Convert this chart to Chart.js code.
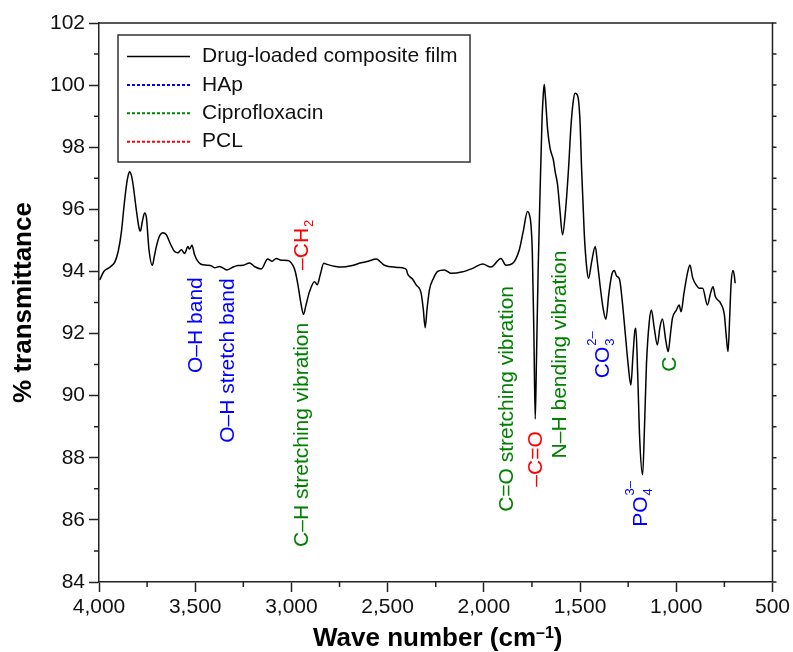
<!DOCTYPE html>
<html>
<head>
<meta charset="utf-8">
<script src="https://cdn.jsdelivr.net/npm/chart.js@4.4.1/dist/chart.umd.min.js"></script>
<style>
  html, body { margin: 0; padding: 0; background: #fff; }
  #wrap { width: 793px; height: 652px; position: relative; }
</style>
</head>
<body>
<div id="wrap"><canvas id="ftir"></canvas></div>
<script>
// ─── DATA ────────────────────────────────────────────────────────────────
const waveNumbers = [
  3996, 3975, 3953, 3935, 3918, 3900, 3884, 3870, 3858, 3848, 3841, 3832, 3823, 3806, 3792, 3785,
  3775, 3763, 3754, 3740, 3723, 3712, 3702, 3685, 3668, 3650, 3630, 3607, 3590, 3572, 3555, 3538,
  3530, 3517, 3503, 3472, 3440, 3416, 3399, 3373, 3335, 3300, 3278, 3250, 3218, 3190, 3157, 3123,
  3100, 3079, 3053, 3019, 2993, 2980, 2967, 2950, 2937, 2925, 2906, 2880, 2866, 2850, 2832, 2811,
  2770, 2741, 2690, 2638, 2600, 2560, 2517, 2450, 2413, 2402, 2396, 2370, 2352, 2326, 2315, 2305,
  2295, 2283, 2260, 2240, 2205, 2170, 2110, 2058, 2006, 1963, 1911, 1885, 1850, 1816, 1795, 1773,
  1762, 1755, 1748, 1740, 1733, 1727, 1718, 1708, 1698, 1690, 1686, 1680, 1669, 1656, 1639, 1629,
  1617, 1605, 1591, 1575, 1560, 1547, 1535, 1526, 1512, 1500, 1492, 1478, 1465, 1456, 1440, 1421,
  1410, 1395, 1380, 1366, 1350, 1335, 1322, 1310, 1295, 1280, 1265, 1250, 1236, 1225, 1215, 1210,
  1200, 1190, 1175, 1165, 1155, 1140, 1129, 1115, 1098, 1085, 1072, 1055, 1042, 1030, 1020, 1000,
  985, 975, 960, 940, 929, 915, 897, 880, 863, 838, 822, 809, 797, 770, 750, 740,
  731, 722, 715, 705, 698, 694
];
const transmittance = [
  93.73, 94.0, 94.10, 94.18, 94.3, 94.65, 95.25, 96.1, 96.75, 97.1, 97.21, 97.1, 96.8, 95.98, 95.4, 95.3,
  95.6, 95.88, 95.75, 94.69, 94.2, 94.5, 94.8, 95.15, 95.25, 95.18, 94.9, 94.64, 94.6, 94.7, 94.58, 94.8,
  94.72, 94.84, 94.53, 94.24, 94.2, 94.18, 94.12, 94.16, 94.05, 94.15, 94.19, 94.2, 94.27, 94.15, 94.08, 94.4,
  94.33, 94.42, 94.36, 94.35, 94.2, 94.0, 93.6, 92.95, 92.62, 92.9, 93.35, 93.67, 93.57, 93.9, 94.26, 94.22,
  94.16, 94.14, 94.18, 94.28, 94.33, 94.4, 94.2, 94.13, 94.1, 94.05, 93.92, 93.75, 93.57, 93.3, 92.8, 92.19,
  92.8, 93.4, 93.8, 94.0, 94.05, 93.94, 93.99, 94.1, 94.24, 94.14, 94.42, 94.2, 94.26, 94.69, 95.3, 95.93,
  95.8, 95.5, 94.6, 92.0, 89.25, 91.0, 94.0, 96.5, 98.8, 99.8, 100.02, 99.6, 98.6, 97.97, 97.6, 97.2,
  96.8, 96.0, 95.18, 96.0, 97.3, 98.7, 99.5, 99.74, 99.65, 98.8, 97.3, 95.2, 94.1, 93.78, 94.3, 94.8,
  94.3, 93.5, 92.8, 92.46, 93.3, 93.9, 94.03, 93.85, 93.75, 93.0, 92.0, 91.0, 90.34, 91.3, 92.1, 92.17,
  90.6, 88.6, 87.45, 89.0, 91.0, 92.4, 92.76, 92.2, 91.63, 92.2, 92.47, 91.8, 91.42, 92.0, 92.49, 92.75,
  92.92, 92.7, 93.3, 94.0, 94.21, 93.8, 93.57, 93.46, 93.46, 92.92, 93.3, 93.51, 93.19, 92.98, 92.6, 91.9,
  91.42, 92.6, 93.62, 94.03, 93.85, 93.62
];

const xTicks = [4000, 3500, 3000, 2500, 2000, 1500, 1000, 500];
const yTicks = [84, 86, 88, 90, 92, 94, 96, 98, 100, 102];

const seriesNames = ['Drug-loaded composite film', 'HAp', 'Ciprofloxacin', 'PCL'];

// band labels: text, subscript, superscript, anchor wave number, anchor level, series index
const bandText   = ['O–H band', 'O–H stretch band', 'C–H stretching vibration', '–CH', 'C=O stretching vibration',
                    '–C=O', 'N–H bending vibration', 'CO', 'PO', 'C'];
const bandSub    = ['', '', '', '2', '', '', '', '3', '4', ''];
const bandSup    = ['', '', '', '', '', '', '', '2–', '3–', ''];
const bandWave   = [3465, 3299, 2916, 2915, 1850, 1698, 1573, 1348, 1150, 1002];
const bandLevel  = [90.73, 88.48, 85.13, 94.05, 86.26, 87.07, 87.98, 90.56, 85.78, 90.77];
const bandSeries = [1, 1, 2, 3, 2, 3, 2, 1, 1, 2];

// ─── ESTILO ──────────────────────────────────────────────────────────────
const FONT = "'Liberation Sans', Arial, Helvetica, sans-serif";
const AXIS = '#222';

// minor ticks = midpoints of the major ones
const mids = arr => arr.slice(1).map((v, i) => (v + arr[i]) / 2);

// ─── PLUGIN: frame, minor ticks, legend, band labels, x title ─────────────
const ftirDecor = {
  id: 'ftirDecor',
  afterDraw(chart) {
    const { ctx, chartArea: a, scales: { x, y } } = chart;
    const sets = chart.data.datasets;
    ctx.save();

    // top and right frame
    ctx.strokeStyle = AXIS;
    ctx.lineWidth = 1.5;
    ctx.beginPath();
    ctx.moveTo(a.left, a.top);
    ctx.lineTo(a.right, a.top);
    ctx.lineTo(a.right, a.bottom);
    ctx.stroke();

    // minor ticks + right side ticks
    ctx.beginPath();
    mids(xTicks).forEach(v => {
      const px = x.getPixelForValue(v);
      ctx.moveTo(px, a.bottom); ctx.lineTo(px, a.bottom + 5);
    });
    mids(yTicks).forEach(v => {
      const py = y.getPixelForValue(v);
      ctx.moveTo(a.left, py); ctx.lineTo(a.left - 5, py);
    });
    [...yTicks, ...mids(yTicks)].forEach(v => {
      const py = y.getPixelForValue(v);
      ctx.moveTo(a.right, py); ctx.lineTo(a.right + 4, py);
    });
    ctx.stroke();

    // legend box
    const lx = a.left + 19, ly = a.top + 12, lw = 352, rowH = 28.4;
    ctx.lineWidth = 1.5;
    ctx.strokeStyle = '#333';
    ctx.strokeRect(lx, ly, lw, 127);
    ctx.font = `21px ${FONT}`;
    ctx.textBaseline = 'middle';
    ctx.textAlign = 'left';
    sets.forEach((ds, i) => {
      const cy = ly + 21.5 + i * rowH;
      ctx.beginPath();
      ctx.setLineDash(ds.borderDash || []);
      ctx.strokeStyle = ds.borderColor;
      ctx.lineWidth = ds.borderDash ? 2 : 1.5;
      ctx.moveTo(lx + 9, cy); ctx.lineTo(lx + 72, cy);
      ctx.stroke();
      ctx.setLineDash([]);
      ctx.fillStyle = '#111';
      ctx.fillText(ds.label, lx + 84, cy);
    });

    // band labels, rotated
    ctx.textBaseline = 'alphabetic';
    bandText.forEach((t, i) => {
      const px = x.getPixelForValue(bandWave[i]);
      const py = y.getPixelForValue(bandLevel[i]);
      ctx.save();
      ctx.translate(px, py);
      ctx.rotate(-Math.PI / 2);
      ctx.fillStyle = sets[bandSeries[i]].borderColor;
      ctx.font = `21px ${FONT}`;
      ctx.fillText(t, 0, 0);
      const w = ctx.measureText(t).width + 1;
      ctx.font = `13px ${FONT}`;
      if (bandSub[i]) ctx.fillText(bandSub[i], w, 5);
      if (bandSup[i]) ctx.fillText(bandSup[i], w, -13);
      ctx.restore();
    });

    // x axis title with superscript
    const main = 'Wave number (cm', sup = '–1', tail = ')';
    ctx.fillStyle = '#000';
    ctx.font = `bold 26px ${FONT}`;
    const w1 = ctx.measureText(main).width, w3 = ctx.measureText(tail).width;
    ctx.font = `bold 16px ${FONT}`;
    const w2 = ctx.measureText(sup).width;
    let tx = (a.left + a.right) / 2 + 2 - (w1 + w2 + w3) / 2;
    const base = a.bottom + 64;
    ctx.font = `bold 26px ${FONT}`;
    ctx.fillText(main, tx, base);
    ctx.font = `bold 16px ${FONT}`;
    ctx.fillText(sup, tx + w1, base - 8);
    ctx.font = `bold 26px ${FONT}`;
    ctx.fillText(tail, tx + w1 + w2, base);

    ctx.restore();
  }
};

// ─── CHART ───────────────────────────────────────────────────────────────
new Chart(document.getElementById('ftir'), {
  type: 'line',
  data: {
    datasets: [
      {
        label: seriesNames[0],
        data: waveNumbers.map((w, i) => ({ x: w, y: transmittance[i] })),
        borderColor: '#000',
        borderWidth: 1.5,
        cubicInterpolationMode: 'monotone',
        pointRadius: 0,
      },
      { label: seriesNames[1], data: [], borderColor: '#0000ff', borderDash: [3, 2], pointRadius: 0 },
      { label: seriesNames[2], data: [], borderColor: '#008000', borderDash: [3, 2], pointRadius: 0 },
      { label: seriesNames[3], data: [], borderColor: '#ff0000', borderDash: [3, 2], pointRadius: 0 },
    ],
  },
  options: {
    responsive: true,
    maintainAspectRatio: false,
    animation: false,
    layout: { padding: { top: 23, right: 20, left: 0, bottom: 0 } },
    plugins: { legend: { display: false }, tooltip: { enabled: false } },
    scales: {
      x: {
        type: 'linear',
        reverse: true,
        min: 500, max: 4000,
        afterBuildTicks: s => { s.ticks = xTicks.map(v => ({ value: v })); },
        afterFit: s => { s.height = 70; },
        ticks: {
          callback: v => v.toLocaleString('en-US'),
          color: '#111', font: { family: FONT, size: 21 },
          padding: 3, maxRotation: 0, autoSkip: false,
        },
        grid: { drawOnChartArea: false, tickLength: 10, tickColor: AXIS, tickWidth: 1.5 },
        border: { color: AXIS, width: 1.5 },
      },
      y: {
        min: 84, max: 102,
        afterBuildTicks: s => { s.ticks = yTicks.map(v => ({ value: v })); },
        afterFit: s => { s.width = 99; },
        ticks: { color: '#111', font: { family: FONT, size: 21 }, padding: 4 },
        grid: { drawOnChartArea: false, tickLength: 10, tickColor: AXIS, tickWidth: 1.5 },
        border: { color: AXIS, width: 1.5 },
        title: {
          display: true, text: '% transmittance', color: '#000',
          font: { family: FONT, size: 26, weight: 'bold' },
          padding: { top: 8, bottom: 0 },
        },
      },
    },
  },
  plugins: [ftirDecor],
});
</script>
</body>
</html>
